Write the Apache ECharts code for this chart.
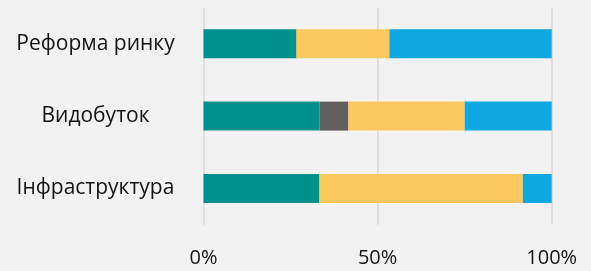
<!DOCTYPE html>
<html>
<head>
<meta charset="utf-8">
<script src="https://cdn.jsdelivr.net/npm/echarts@6/dist/echarts.min.js"></script>
<style>
  html, body { margin: 0; padding: 0; background: #F2F2F2; }
  #chart { width: 591px; height: 271px; }
</style>
</head>
<body>
<div id="chart"></div>
<script>
// категорії зверху вниз
const categories = ['Реформа ринку', 'Видобуток', 'Інфраструктура'];
// частки, %
const tealValues = [26.7, 33.3, 33.3];
const grayValues = [0, 8.3, 0];
const yellowValues = [26.7, 33.4, 58.4];
const blueValues = [46.6, 25.0, 8.3];
const xTicks = [0, 50, 100];

const chart = echarts.init(document.getElementById('chart'));

function stackSeries(name, data, color) {
  return {
    name: name,
    type: 'bar',
    stack: 'total',
    barWidth: 29,
    data: data,
    itemStyle: { color: color },
    emphasis: { disabled: true }
  };
}

const option = {
  backgroundColor: '#F2F2F2',
  animation: false,
  grid: { left: 203.5, right: 39.3, top: 7.5, bottom: 46.3 },
  xAxis: {
    type: 'value',
    min: xTicks[0],
    max: xTicks[xTicks.length - 1],
    interval: 50,
    axisLine: { show: false },
    axisTick: { show: false },
    splitLine: { lineStyle: { color: '#D9D9D9', width: 1.5 } },
    axisLabel: {
      formatter: '{value}%',
      margin: 24,
      fontFamily: 'Open Sans',
      fontSize: 20,
      color: '#141414'
    }
  },
  yAxis: {
    type: 'category',
    inverse: true,
    data: categories,
    axisLine: { show: false },
    axisTick: { show: false },
    axisLabel: {
      align: 'center',
      margin: 108,
      fontFamily: 'Open Sans',
      fontSize: 21,
      color: '#141414'
    }
  },
  series: [
    stackSeries('teal', tealValues, '#00918C'),
    stackSeries('gray', grayValues, '#5F5F5F'),
    stackSeries('yellow', yellowValues, '#FDC85E'),
    stackSeries('blue', blueValues, '#0CA8DF')
  ]
};

chart.setOption(option);
</script>
</body>
</html>
